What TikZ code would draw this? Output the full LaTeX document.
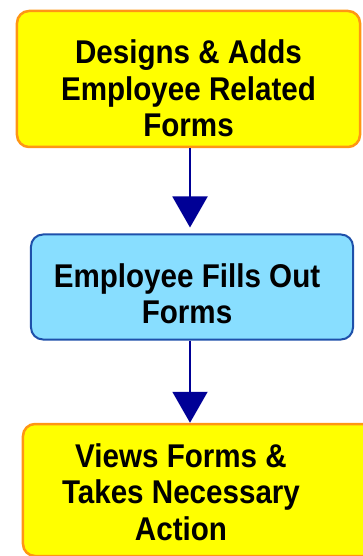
\documentclass[tikz,border=0pt]{standalone}
\usepackage{fontspec}
\setmainfont{Liberation Sans}
\newfontfamily\lblfont[FakeStretch=0.9]{Liberation Sans}
\usetikzlibrary{arrows.meta}
\definecolor{ybox}{RGB}{255,255,0}
\definecolor{yedge}{RGB}{255,150,20}
\definecolor{bbox}{RGB}{136,222,255}
\definecolor{bedge}{RGB}{30,80,170}
\definecolor{arrc}{RGB}{0,0,150}
\begin{document}
\begin{tikzpicture}[x=1bp,y=-1bp,
  boxy/.style={draw=yedge,fill=ybox,line width=2.5bp,rounded corners=12bp,inner sep=0pt,anchor=center},
  boxb/.style={draw=bedge,fill=bbox,line width=2bp,rounded corners=12bp,inner sep=0pt,anchor=center},
  lbl/.style={font=\lblfont\bfseries\fontsize{33}{36.5}\selectfont,align=center,inner sep=0pt,anchor=center},
  flow/.style={draw=arrc,line width=2bp,-{Triangle[width=35bp,length=31bp]}}
]
\useasboundingbox (0,0) rectangle (362,556);
\node[boxy,minimum width=343bp,minimum height=136bp] (b1) at (188.5,79) {};
\node[boxb,minimum width=322bp,minimum height=105bp] (b2) at (192,287) {};
\node[boxy,minimum width=352bp,minimum height=132bp] (b3) at (199,490) {};
\node[lbl] (t1) at (188.5,88.5) {Designs \& Adds\\Employee Related\\Forms};
\node[lbl] (t2) at (187,294) {Employee Fills Out\\Forms};
\node[lbl] (t3) at (181,492) {Views Forms \&\\Takes Necessary\\Action};
\coordinate (ax) at (190,0);
\draw[flow,shorten >=6bp] (b1.south -| ax) -- (b2.north -| ax);
\draw[flow] (b2.south -| ax) -- (b3.north -| ax);
\end{tikzpicture}
\end{document}
